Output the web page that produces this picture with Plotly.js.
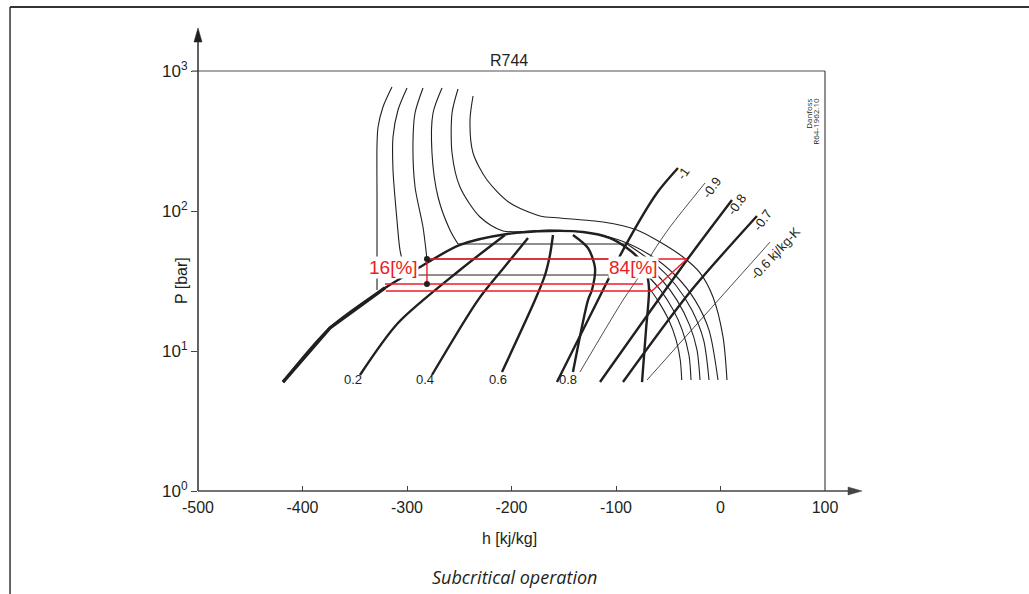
<!DOCTYPE html>
<html><head><meta charset="utf-8">
<script src="https://cdn.plot.ly/plotly-3.0.1.min.js"></script>
<style>html,body{margin:0;padding:0;background:#fff}#chart{width:1029px;height:594px}</style>
</head><body><div id="chart"></div>
<script>
// ---- axes ----
const xTickVals = [-500, -400, -300, -200, -100, 0, 100];
const xTickText = ['-500', '-400', '-300', '-200', '-100', '0', '100'];
const yTickVals = [1, 10, 100, 1000];
const yTickText = ['10<sup>0</sup>', '10<sup>1</sup>', '10<sup>2</sup>', '10<sup>3</sup>'];

// ---- saturation dome (h kJ/kg, P bar) ----
const satH = [-418.7, -373.7, -321.1, -292.3, -249.3, -204.3, -163.2, -131.6, -105.7, -89.5, -77.0, -70.3, -68.4, -71.3, -75.1];
const satP = [6.0, 14.6, 28.2, 37.9, 57.2, 68.5, 72.0, 70.8, 64.1, 54.4, 44.7, 34.9, 27.3, 14.1, 6.0];
const liqH = [-418.7, -373.7, -321.1];
const liqP = [6.0, 14.6, 28.2];

// ---- isotherms: liquid part, two-phase isobar, vapour arc ----
const t1LiqH = [-314.4, -323.0, -327.7, -328.7, -328.7, -328.7];
const t1LiqP = [768.7, 553.3, 398.1, 296.0, 119.8, 27.3];
const t1VapH = [-68.4, -60.2, -49.6, -42.5, -38.5, -37.1];
const t1VapP = [28.2, 23.1, 16.7, 12.0, 8.62, 6.21];

const t2LiqH = [-300.0, -308.6, -313.4, -313.4, -309.6, -306.7, -301.0];
const t2LiqP = [756.2, 526.5, 337.8, 196.3, 86.2, 52.6, 34.9];
const t2BarH = [-301.0, -70.3];
const t2BarP = [34.9, 34.9];
const t2VapH = [-70.3, -57.6, -45.2, -36.6, -30.2, -28.2];
const t2VapP = [34.9, 27.3, 19.6, 14.1, 9.36, 6.21];

const t3LiqH = [-284.7, -292.3, -294.3, -292.3, -284.7, -280.9];
const t3LiqP = [756.2, 501.2, 305.9, 148.4, 76.9, 45.4];
const t3BarH = [-280.9, -77.0];
const t3BarP = [45.4, 45.4];
const t3VapH = [-77.0, -56.2, -41.7, -29.6, -22.5, -19.6];
const t3VapP = [45.4, 32.2, 23.1, 15.3, 10.2, 6.21];

const t4LiqH = [-266.5, -275.1, -276.1, -270.3, -258.9, -251.2];
const t4LiqP = [756.2, 501.2, 259.6, 125.9, 73.2, 58.1];
const t4BarH = [-251.2, -89.5];
const t4BarP = [58.1, 58.1];
const t4VapH = [-89.5, -61.3, -42.9, -27.4, -16.2, -11.0];
const t4VapP = [58.1, 41.1, 29.6, 19.6, 12.0, 6.21];

const t5H = [-251.2, -256.9, -256.9, -249.3, -230.1, -208.1, -163.2, -131.6, -97.1, -67.5, -43.5, -24.4, -11.0, -2.4];
const t5P = [743.8, 501.2, 259.6, 148.4, 90.6, 72.0, 73.2, 70.8, 62.1, 48.5, 34.9, 23.1, 14.1, 6.21];

const t6H = [-236.8, -239.7, -236.8, -223.4, -201.4, -172.7, -153.6, -112.4, -79.9, -57.9, -35.9, -19.6, -7.2, 2.4, 6.2];
const t6P = [662.9, 446.7, 259.6, 166.5, 114.0, 92.1, 89.1, 83.4, 73.2, 60.0, 46.9, 36.1, 24.3, 12.6, 6.21];

// ---- vapour quality lines ----
const q02H = [-206.2, -249.3, -308.6, -345.0];
const q02P = [67.4, 37.9, 15.85, 6.74];
const q04H = [-184.2, -209.1, -232.1, -276.1];
const q04P = [64.1, 37.9, 23.1, 6.74];
const q06H = [-160.3, -163.2, -167.9, -177.5, -209.1];
const q06P = [67.4, 48.5, 34.9, 23.1, 7.08];
const q08H = [-141.2, -126.8, -120.1, -123.0, -126.8, -141.2];
const q08P = [67.4, 54.4, 39.2, 27.3, 23.1, 7.08];
const qualLabels = ['0.2', '0.4', '0.6', '0.8'];
const qualLabelH = [-351.7, -282.8, -212.9, -145.9];
const qualLabelP = [6.31, 6.31, 6.31, 6.31];

// ---- isentropes (kJ/kg-K) ----
const s10H = [-156.5, -108.6, -93.3, -60.8, -40.7];
const s10P = [6.01, 31.1, 52.6, 134.5, 202.9];
const s09H = [-134.5, -93.3, -77.0, -64.6, -48.3, -14.8];
const s09P = [7.08, 23.1, 34.9, 50.95, 76.9, 158.5];
const s08H = [-115.3, -32.1, 11.0];
const s08P = [6.01, 44.7, 119.8];
const s07H = [-93.3, -29.2, 34.9];
const s07P = [6.01, 26.4, 92.1];
const s06H = [-70.3, 47.4];
const s06P = [6.21, 60.0];
const sLabels = ['-1', '-0.9', '-0.8', '-0.7', '-0.6 kj/kg-K'];
const sLabelH = [-35.9, -8.1, 15.8, 39.7, 52.2];
const sLabelP = [186.8, 146.0, 110.4, 86.2, 50.1];

// ---- refrigeration cycle (red) ----
const cycTopH = [-280.9, -32.1];  const cycTopP = [45.4, 45.4];
const cycExpH = [-280.9, -280.9]; const cycExpP = [45.4, 30.1];
const cycMidH = [-321.1, -74.2];  const cycMidP = [30.1, 30.1];
const cycLowH = [-320.1, -65.6];  const cycLowP = [26.8, 26.8];
const cycCompH = [-65.6, -32.1];  const cycCompP = [26.8, 45.4];
const dotH = [-280.9, -280.9];    const dotP = [45.4, 30.1];
const ringH = [-320.1, -320.1, -74.2, -74.2, -65.6, -32.1];
const ringP = [30.1, 26.8, 30.1, 27.8, 26.8, 45.4];
const pctLabels = ['16[%]', '84[%]'];
const pctH = [-313.4, -83.7];
const pctP = [39.2, 39.2];

const BLK = '#231f20', RED = '#ed1c24';
const F = 'Liberation Sans, Arial, sans-serif';
function ln(x, y, w, shape, color) {
  return {x: x, y: y, type: 'scatter', mode: 'lines', hoverinfo: 'skip', showlegend: false,
    line: {color: color || BLK, width: w, shape: shape || 'spline', smoothing: 0.8}};
}
const thin = 1.1, thick = 2.4;
const traces = [
  ln(t1LiqH, t1LiqP, thin), ln(t1VapH, t1VapP, thin),
  ln(t2LiqH, t2LiqP, thin), ln(t2BarH, t2BarP, thin, 'linear'), ln(t2VapH, t2VapP, thin),
  ln(t3LiqH, t3LiqP, thin), ln(t3BarH, t3BarP, thin, 'linear'), ln(t3VapH, t3VapP, thin),
  ln(t4LiqH, t4LiqP, thin), ln(t4BarH, t4BarP, thin, 'linear'), ln(t4VapH, t4VapP, thin),
  ln(t5H, t5P, thin), ln(t6H, t6P, thin),
  ln(q02H, q02P, thick), ln(q04H, q04P, thick), ln(q06H, q06P, thick), ln(q08H, q08P, thick),
  ln(s10H, s10P, thick), ln(s09H, s09P, 0.8), ln(s08H, s08P, thick), ln(s07H, s07P, thick), ln(s06H, s06P, 0.8),
  ln(satH, satP, thick), ln(liqH, liqP, 3.4, 'linear'),
  ln(cycTopH, cycTopP, 1.4, 'linear', RED), ln(cycExpH, cycExpP, 1.4, 'linear', RED),
  ln(cycMidH, cycMidP, 1.4, 'linear', RED), ln(cycLowH, cycLowP, 1.4, 'linear', RED),
  ln(cycCompH, cycCompP, 1.4, 'linear', RED),
  {x: dotH, y: dotP, type: 'scatter', mode: 'markers', hoverinfo: 'skip', showlegend: false,
    marker: {color: BLK, size: 6}},
  {x: ringH, y: ringP, type: 'scatter', mode: 'markers', hoverinfo: 'skip', showlegend: false,
    marker: {color: 'rgba(255,255,255,0)', size: 6, symbol: 'circle-open', line: {color: BLK, width: 1.5}}}
];

const annotations = [];
function txt(o) { return Object.assign({showarrow: false, xanchor: 'center', yanchor: 'middle'}, o); }
qualLabels.forEach((t, i) => annotations.push(txt({x: qualLabelH[i], y: Math.log10(qualLabelP[i]), text: t,
  font: {family: F, size: 13, color: BLK}})));
sLabels.forEach((t, i) => annotations.push(txt({x: sLabelH[i], y: Math.log10(sLabelP[i]), text: t,
  textangle: i === 4 ? -47 : -55, font: {family: F, size: 13, color: BLK}})));
pctLabels.forEach((t, i) => annotations.push(txt({x: pctH[i], y: Math.log10(pctP[i]), text: t, bgcolor: '#fff',
  borderpad: 0, font: {family: F, size: 19, color: RED}})));
annotations.push(txt({xref: 'paper', yref: 'paper', x: 0.496, y: 1.026, text: 'R744', font: {family: F, size: 16, color: BLK}}));
annotations.push(txt({xref: 'paper', yref: 'paper', x: -0.027, y: 0.5, text: 'P [bar]', textangle: -90, font: {family: F, size: 16, color: BLK}}));
annotations.push(txt({xref: 'paper', yref: 'paper', x: 0.497, y: -0.112, text: 'h [kj/kg]', font: {family: F, size: 16, color: BLK}}));
annotations.push(txt({xref: 'paper', yref: 'paper', x: 0.505, y: -0.205, text: '<i>Subcritical operation</i>', font: {family: 'Open Sans, sans-serif', size: 18, color: BLK}}));
annotations.push(txt({xref: 'paper', yref: 'paper', x: 0.9745, y: 0.898, text: 'Danfoss', textangle: -90, font: {family: 'Open Sans, sans-serif', size: 8, color: BLK}}));
annotations.push(txt({xref: 'paper', yref: 'paper', x: 0.9845, y: 0.88, text: 'R64-1962.10', textangle: -90, font: {family: 'Open Sans, sans-serif', size: 8, color: BLK}}));

const shapes = [
  {type: 'line', xref: 'paper', yref: 'paper', x0: -0.0096, x1: 1, y0: 1, y1: 1, line: {color: '#8a8a8a', width: 1.5}},
  {type: 'line', xref: 'paper', yref: 'paper', x0: 1, x1: 1, y0: 0, y1: 1, line: {color: BLK, width: 1}},
  // axis arrows
  {type: 'line', xref: 'paper', yref: 'paper', x0: 0, x1: 0, y0: 0, y1: 1.075, line: {color: BLK, width: 1.4}},
  {type: 'path', xref: 'paper', yref: 'paper', path: 'M -0.0064,1.069 L 0,1.1024 L 0.0064,1.069 Z', fillcolor: BLK, line: {color: BLK, width: 0.5}},
  {type: 'line', xref: 'paper', yref: 'paper', x0: 0, x1: 1.04, y0: 0, y1: 0, line: {color: '#444', width: 1.4}},
  {type: 'path', xref: 'paper', yref: 'paper', path: 'M 1.0367,0.0095 L 1.059,0 L 1.0367,-0.0095 Z', fillcolor: '#444', line: {color: '#444', width: 0.5}},
  // outer frame
  {type: 'line', xref: 'paper', yref: 'paper', x0: -0.2998, x1: 1.33, y0: 1.1524, y1: 1.1524, line: {color: '#333', width: 2}},
  {type: 'line', xref: 'paper', yref: 'paper', x0: -0.2998, x1: -0.2998, y0: -0.25, y1: 1.1524, line: {color: '#333', width: 1.5}}
];

const layout = {
  width: 1029, height: 594, margin: {l: 198, r: 204, t: 71, b: 103},
  paper_bgcolor: '#fff', plot_bgcolor: '#fff', showlegend: false,
  xaxis: {range: [-500, 100], tickvals: xTickVals, ticktext: xTickText, ticks: 'inside', ticklen: 5, tickcolor: '#444',
    ticklabelstandoff: 5, showgrid: false, zeroline: false, showline: false, tickfont: {family: F, size: 16, color: BLK}},
  yaxis: {type: 'log', range: [0, 3], tickvals: yTickVals, ticktext: yTickText, ticks: 'outside', ticklen: 6, tickcolor: '#444',
    showgrid: false, zeroline: false, showline: false, tickfont: {family: F, size: 17, color: BLK}},
  annotations: annotations, shapes: shapes
};
Plotly.newPlot('chart', traces, layout, {staticPlot: true, displayModeBar: false});
</script></body></html>
